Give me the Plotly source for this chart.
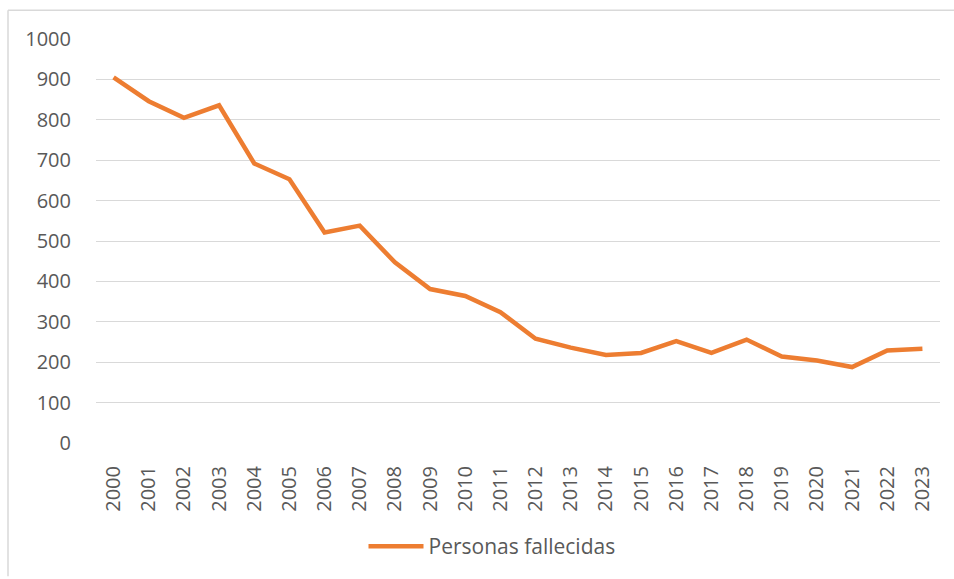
import plotly.graph_objects as go

years = [str(y) for y in range(2000, 2024)]
fallecidos = [905, 846, 805, 836, 692, 653, 521, 538, 447, 381, 364, 324,
              258, 236, 218, 223, 252, 223, 256, 214, 204, 188, 229, 233]
serie = "Personas fallecidas"
y_ticks = [0, 100, 200, 300, 400, 500, 600, 700, 800, 900, 1000]

W, H = 954, 579
ML, MR, MT, MB = 96, 14, 39, 134
PW, PH = W - ML - MR, H - MT - MB


def px_x(p):
    return (p - ML) / PW


def px_y(p):
    return (H - MB - p) / PH


FONT = "Open Sans"
GRAY = "#595959"

fig = go.Figure()
fig.add_trace(go.Scatter(
    x=years, y=fallecidos, mode="lines", name=serie,
    line=dict(color="#ED7D31", width=4.5),
    showlegend=True,
))

fig.update_layout(
    width=W, height=H,
    margin=dict(l=ML, r=MR, t=MT, b=MB),
    paper_bgcolor="white", plot_bgcolor="white",
    font=dict(family=FONT, size=20, color=GRAY),
    showlegend=True,
    legend=dict(orientation="h", x=px_x(492), xanchor="center",
                y=px_y(549), yanchor="middle", itemwidth=55,
                font=dict(family=FONT, size=21, color=GRAY),
                bgcolor="rgba(0,0,0,0)"),
    xaxis=dict(type="category", range=[-0.5, len(years) - 0.5],
               showgrid=False, showline=False, zeroline=False,
               tickangle=-90, ticks="outside", ticklen=14,
               tickcolor="rgba(0,0,0,0)",
               tickfont=dict(family=FONT, size=20, color=GRAY)),
    yaxis=dict(range=[0, 1000], tickvals=y_ticks,
               showgrid=True, gridcolor="#D9D9D9", gridwidth=1,
               zeroline=False, showline=False,
               ticks="outside", ticklen=20, tickcolor="rgba(0,0,0,0)",
               tickfont=dict(family=FONT, size=20, color=GRAY)),
    shapes=[
        dict(type="line", xref="paper", yref="paper",
             x0=px_x(8), x1=px_x(954), y0=px_y(10), y1=px_y(10),
             line=dict(color="#D9D9D9", width=1.5)),
        dict(type="line", xref="paper", yref="paper",
             x0=px_x(8), x1=px_x(8), y0=px_y(10), y1=px_y(579),
             line=dict(color="#D9D9D9", width=1.5)),
    ],
)

fig.write_html("out.html",
               config={"displayModeBar": False},
               post_script="document.body.style.margin='0';")
